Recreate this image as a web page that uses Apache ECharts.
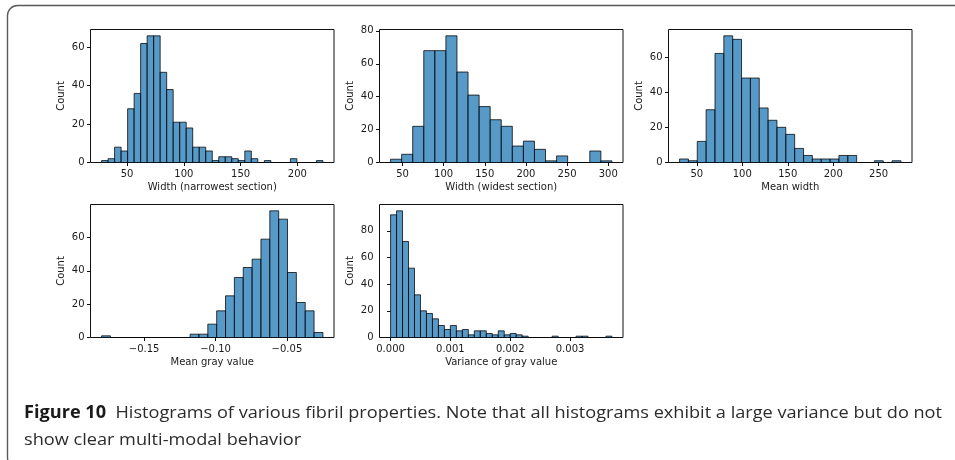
<!DOCTYPE html>
<html>
<head>
<meta charset="utf-8">
<script src="https://cdn.jsdelivr.net/npm/echarts@6/dist/echarts.min.js"></script>
<style>
  html, body { margin: 0; padding: 0; background: #fff; }
  #chart { width: 955px; height: 460px; }
</style>
</head>
<body>
<div id="chart"></div>
<script>
// Histogram counts per bin (left to right) and the bin layout of each panel.
const narrowCounts = [1, 2, 8, 6, 28, 36, 62, 66, 66, 47, 38, 21, 21, 18, 8, 8, 6, 1, 3, 3, 2, 1, 6, 2, 0, 1, 0, 0, 0, 2, 0, 0, 0, 1];
const narrowStart = 27.5, narrowWidth = 5.735;

const widestCounts = [2, 5, 22, 68, 68, 77, 55, 41, 34, 26, 22, 10, 13, 8, 1, 4, 0, 0, 7, 1];
const widestStart = 35.5, widestWidth = 13.45;

const meanWidthCounts = [2, 1, 12, 30, 62, 72, 70, 48, 48, 31, 24, 20, 16, 8, 4, 2, 2, 2, 4, 4, 0, 0, 1, 0, 1];
const meanWidthStart = 31.0, meanWidthWidth = 9.74;

const grayCounts = [1, 0, 0, 0, 0, 0, 0, 0, 0, 0, 2, 2, 8, 16, 25, 36, 42, 47, 59, 76, 71, 39, 21, 16, 3];
const grayStart = -0.1798, grayWidth = 0.0062;

const varCounts = [92, 95, 72, 52, 32, 20, 18, 14, 9, 6, 9, 5, 6, 2, 5, 5, 3, 2, 5, 2, 3, 2, 1, 0, 0, 0, 0, 1, 0, 0, 0, 1, 1, 0, 0, 0, 1];
const varStart = 0.0, varWidth = 0.0001;

// Axis labels and tick values
const xNames = ['Width (narrowest section)', 'Width (widest section)', 'Mean width', 'Mean gray value', 'Variance of gray value'];
const xTicks = [
  [50, 100, 150, 200],
  [50, 100, 150, 200, 250, 300],
  [50, 100, 150, 200, 250],
  [-0.15, -0.10, -0.05],
  [0.000, 0.001, 0.002, 0.003]
];
const xDecimals = [0, 0, 0, 2, 3];
const yTicks = [
  [0, 20, 40, 60],
  [0, 20, 40, 60, 80],
  [0, 20, 40, 60],
  [0, 20, 40, 60],
  [0, 20, 40, 60, 80]
];
const captionBold = 'Figure 10';
const captionLine1 = 'Histograms of various fibril properties. Note that all histograms exhibit a large variance but do not';
const captionLine2 = 'show clear multi-modal behavior';

const panels = [
  { counts: narrowCounts, start: narrowStart, width: narrowWidth },
  { counts: widestCounts, start: widestStart, width: widestWidth },
  { counts: meanWidthCounts, start: meanWidthStart, width: meanWidthWidth },
  { counts: grayCounts, start: grayStart, width: grayWidth },
  { counts: varCounts, start: varStart, width: varWidth }
];

// Panel rectangles in pixels
const boxes = [
  { left: 90.5, top: 29.5, width: 243.5, height: 133 },
  { left: 379.5, top: 29.5, width: 243.5, height: 133 },
  { left: 668.5, top: 29.5, width: 243.5, height: 133 },
  { left: 90.5, top: 204.5, width: 243.5, height: 133 },
  { left: 379.5, top: 204.5, width: 243.5, height: 133 }
];

const TXT = '#1a1a1a';
const FONT = 'DejaVu Sans';

function fmtTick(v, d) {
  const s = Math.abs(v).toFixed(d);
  return (v < 0 ? '\u2212' : '') + s;
}

const grids = [], xAxes = [], yAxes = [], series = [];
panels.forEach((p, i) => {
  const n = p.counts.length;
  const lo = p.start, hi = p.start + n * p.width;
  const pad = (hi - lo) * 0.05;
  const ymax = Math.max(...p.counts) * 1.05;
  grids.push(Object.assign({ show: true, borderColor: '#111', borderWidth: 1, backgroundColor: 'transparent' }, boxes[i]));
  xAxes.push({
    type: 'value', gridIndex: i, min: lo - pad, max: hi + pad,
    name: xNames[i], nameLocation: 'middle', nameGap: 20,
    nameTextStyle: { fontFamily: FONT, fontSize: 10, color: TXT },
    axisLine: { show: false },
    splitLine: { show: false },
    axisTick: { show: true, length: 3.5, inside: false, lineStyle: { color: '#111', width: 1 }, customValues: xTicks[i] },
    axisLabel: { show: true, margin: 7, fontFamily: FONT, fontSize: 10, color: TXT, customValues: xTicks[i],
      formatter: v => fmtTick(v, xDecimals[i]) }
  });
  yAxes.push({
    type: 'value', gridIndex: i, min: 0, max: ymax,
    name: 'Count', nameLocation: 'middle', nameGap: 24, nameRotate: 90,
    nameTextStyle: { fontFamily: FONT, fontSize: 10, color: TXT },
    axisLine: { show: false },
    splitLine: { show: false },
    axisTick: { show: true, length: 3.5, lineStyle: { color: '#111', width: 1 }, customValues: yTicks[i] },
    axisLabel: { show: true, margin: 6, fontFamily: FONT, fontSize: 10, color: TXT, customValues: yTicks[i],
      formatter: v => String(v) }
  });
  const data = p.counts.map((c, k) => [p.start + k * p.width, p.start + (k + 1) * p.width, c]);
  series.push({
    type: 'custom', xAxisIndex: i, yAxisIndex: i, data: data, clip: true,
    encode: { x: [0, 1], y: 2 },
    renderItem: (params, api) => {
      const a = api.coord([api.value(0), api.value(2)]);
      const b = api.coord([api.value(1), 0]);
      return {
        type: 'rect',
        shape: { x: a[0], y: a[1], width: b[0] - a[0], height: b[1] - a[1] },
        style: { fill: 'rgba(31,119,180,0.75)', stroke: 'rgba(0,0,0,0.75)', lineWidth: 1 }
      };
    }
  });
});

// Caption: fit line 1 to the text column width
const capFont = '"Open Sans"';
const capSize = 17;
const ctx = document.createElement('canvas').getContext('2d');
ctx.font = 'bold ' + capSize + 'px ' + capFont;
const wBold = ctx.measureText(captionBold).width;
ctx.font = capSize + 'px ' + capFont;
const wRest = ctx.measureText('  ' + captionLine1).width;
const capScale = 918 / (wBold + wRest);

const chart = echarts.init(document.getElementById('chart'), null, { renderer: 'canvas' });
chart.setOption({
  backgroundColor: '#fff',
  animation: false,
  grid: grids,
  xAxis: xAxes,
  yAxis: yAxes,
  series: series,
  graphic: [
    {
      type: 'rect', silent: true,
      shape: { x: 7.5, y: 5.5, width: 1000, height: 462, r: 10 },
      style: { fill: 'none', stroke: '#5a5a5a', lineWidth: 1.4 }
    },
    {
      type: 'text', x: 24, y: 413, scaleX: capScale, originX: 0,
      style: {
        text: '{b|' + captionBold + '}  ' + captionLine1,
        fontFamily: capFont, fontSize: capSize, fill: '#2b2b2b', verticalAlign: 'middle',
        rich: { b: { fontFamily: capFont, fontSize: capSize, fontWeight: 'bold', fill: '#1a1a1a' } }
      }
    },
    {
      type: 'text', x: 24, y: 440, scaleX: capScale, originX: 0,
      style: {
        text: captionLine2,
        fontFamily: capFont, fontSize: capSize, fill: '#2b2b2b', verticalAlign: 'middle'
      }
    }
  ]
});
</script>
</body>
</html>
